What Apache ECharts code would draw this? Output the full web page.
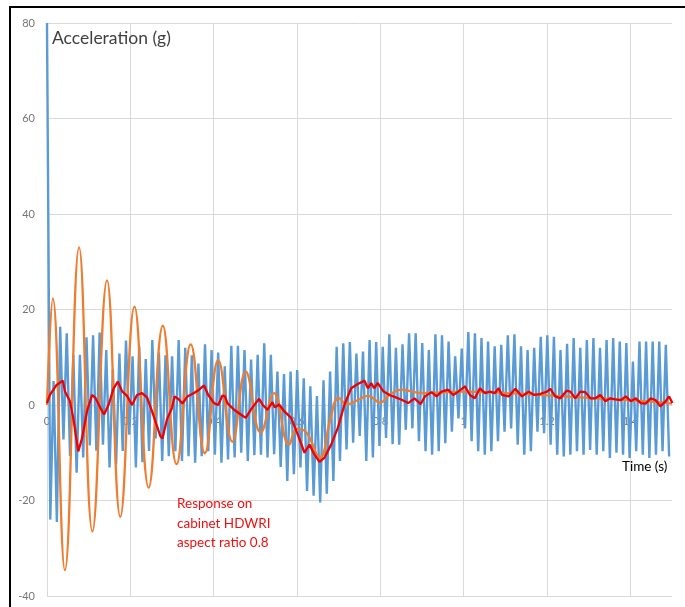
<!DOCTYPE html>
<html><head><meta charset="utf-8">
<script src="https://cdn.jsdelivr.net/npm/echarts@6/dist/echarts.min.js"></script>
<style>html,body{margin:0;padding:0;background:#fff}#c{width:685px;height:607px}</style>
</head><body><div id="c"></div>
<script>
// Axis settings
const xTickLabels = ['0', '0.2', '0.4', '0.6', '0.8', '1', '1.2', '1.4'];
const yTickLabels = ['-40', '-20', '0', '20', '40', '60', '80'];

// Blue series: sampled oscillation, peaks and troughs read per cycle (period ~0.0158 s)
const bluePeriod = 0.0158;
const bluePeaks = [80, 5, 16.4, 15, 10.5, 10.5, 14.2, 14.6, 15.2, 11.5,
  7.4, 10.8, 13.5, 10.2, 12.3, 9.6, 13.6, 11, 10.4, 10.2,
  13.6, 12, 10.4, 8.7, 12.7, 11.5, 11, 8.1, 12.4, 12.4,
  11.5, 9.5, 10.5, 12.9, 10.5, 7, 6.5, 7, 7.3, 5.6,
  3.9, 1.9, 5.2, 7, 12.2, 12.9, 13.2, 10.8, 11.2, 13.6,
  13.2, 12.2, 14.8, 12, 12.7, 15, 15, 13, 11.5, 14.8,
  14.6, 13.3, 10.2, 11.8, 15.3, 15, 14, 13.3, 12.3, 12.6,
  14.6, 14.8, 12.3, 11.5, 12, 14.3, 14.6, 14.3, 11.5, 12.8,
  14, 12, 13.6, 14, 12, 13.6, 14, 13.3, 13, 9.1,
  13.3, 13.3, 13.3, 13.3, 12.6];
const blueTroughs = [-24, -24.5, -7.2, -10.7, -14.2, -11, -8.5, -9.6, -8.3, -13.1,
  -12.4, -9.6, -6.2, -13.1, -12, -9.6, -7, -11.7, -10.7, -9.7,
  -11.7, -10.7, -12.1, -10.7, -9.7, -10.4, -12.1, -11.4, -11, -10,
  -11.7, -10.5, -10.4, -11, -10.3, -13, -15.9, -14.5, -13.1, -18,
  -19, -20.4, -18.6, -15.9, -11.7, -9.3, -7.9, -6.5, -11.7, -11,
  -8.6, -6.9, -8.2, -8.3, -5.2, -4.9, -7.6, -9.7, -10.4, -9.7,
  -8, -5.6, -2.8, -4.9, -7.6, -9.7, -10.4, -9.7, -7.6, -5.6,
  -4.9, -8.3, -10.4, -9.7, -5.6, -5.9, -8.3, -10.4, -10.8, -10.4,
  -9.7, -10.4, -9.4, -10.4, -9.7, -11.1, -10, -10.4, -11.1, -9.7,
  -10.4, -11.1, -10.4, -9.7, -10.8];

// Orange series
const orangeTime = [0, 0.014, 0.043, 0.077, 0.109, 0.144, 0.176, 0.21, 0.244, 0.278,
  0.311, 0.345, 0.379, 0.411, 0.445, 0.477, 0.513, 0.545, 0.581, 0.6,
  0.62, 0.655, 0.68, 0.70, 0.72, 0.75, 0.77, 0.80, 0.82, 0.85,
  0.9, 1.0, 1.1, 1.2, 1.3, 1.4, 1.5];
const orangeValue = [0, 22.3, -34.6, 33, -26.5, 26.1, -23.4, 20.6, -17.3, 16.6,
  -12.4, 12.7, -10.1, 9.4, -7.7, 7, -5.8, 2.5, -8.3, -5,
  -5.5, -11, -3, 1.5, 0.2, 1.2, 1.9, 0.5, 2, 3.2,
  2.5, 2.8, 2.5, 2, 1.5, 1, 0.3];

// Red series (response on cabinet HDWRI)
const redTime = [0, 0.007, 0.023, 0.038, 0.043, 0.055, 0.063, 0.075, 0.084, 0.096,
  0.108, 0.116, 0.128, 0.137, 0.148, 0.160, 0.170, 0.180, 0.192, 0.204,
  0.216, 0.228, 0.240, 0.252, 0.260, 0.272, 0.277, 0.288, 0.300, 0.306,
  0.316, 0.325, 0.337, 0.353, 0.365, 0.377, 0.387, 0.401, 0.411, 0.421,
  0.427, 0.433, 0.449, 0.465, 0.477, 0.489, 0.501, 0.509, 0.518, 0.529,
  0.541, 0.547, 0.557, 0.569, 0.586, 0.602, 0.618, 0.630, 0.642, 0.654,
  0.666, 0.682, 0.698, 0.714, 0.730, 0.746, 0.762, 0.770, 0.778, 0.785,
  0.794, 0.807, 0.822, 0.834, 0.851, 0.867, 0.882, 0.897, 0.907, 0.923,
  0.935, 0.947, 0.963, 0.975, 0.987, 1.003, 1.015, 1.027, 1.039, 1.051,
  1.063, 1.075, 1.084, 1.092, 1.108, 1.124, 1.140, 1.156, 1.169, 1.183,
  1.200, 1.208, 1.220, 1.232, 1.247, 1.256, 1.268, 1.280, 1.292, 1.304,
  1.316, 1.328, 1.340, 1.352, 1.364, 1.377, 1.389, 1.401, 1.413, 1.425,
  1.437, 1.449, 1.461, 1.472, 1.485, 1.493, 1.501];
const redValue = [0.4, 2.1, 4.2, 5.1, 2.9, 0.8, -2.7, -9.7, -7, -1.3,
  2.1, 1.5, -0.6, -2, 0.1, 3.5, 4.9, 2.9, 1.9, 0,
  2.1, 2.5, 1.6, -1.3, -3.4, -6.5, -7, -3, -0.6, 1.8,
  1.2, 0.3, 1.8, 2.5, 3.2, 4.1, 2.1, 0.4, 0, 2,
  1.8, 0.4, -1, -2, -2.7, -1, 0.4, 1.3, 0, -1,
  0.6, -0.5, 0.1, -1.3, -2.7, -6.2, -10, -8.3, -10.4, -11.9,
  -11, -8.3, -4.8, 0.1, 3.5, 4.4, 5.1, 3.5, 4.6, 3.5,
  4.6, 2.9, 2.1, 1.7, 1.1, 0.4, 1.4, 0.2, 1.8, 2.7,
  1.8, 2.8, 3.2, 2.1, 2.8, 3.9, 2.1, 1.4, 3.5, 2.5,
  2.8, 2.5, 3.5, 2.1, 1.8, 3.4, 1.8, 2.8, 2.1, 2.3,
  2.8, 3.4, 1.8, 1.4, 3, 2.8, 1.4, 2.8, 2.7, 1.4,
  1.4, 2.1, 0.8, 1.4, 1.2, 1, 1.8, 0.8, 1.4, 0.4,
  0.3, 1.4, 1, -0.3, 0.8, 1.8, 0.4];

const blueData = [];
for (let i = 0; i < bluePeaks.length; i++) {
  blueData.push([i * bluePeriod, bluePeaks[i]]);
  if (i < blueTroughs.length) blueData.push([(i + 0.5) * bluePeriod, blueTroughs[i]]);
}
const orangeData = orangeTime.map((t, i) => [t, orangeValue[i]]);
const redData = redTime.map((t, i) => [t, redValue[i]]);

const FONT = 'Lato, "Liberation Sans", sans-serif';
const xSplitColors = xTickLabels.map(() => '#d9d9d9').concat(['rgba(0,0,0,0)']);

const GRID = {left: 47, right: 13, top: 23, bottom: 11};
const Y_MIN = -40, Y_MAX = 80;
const gridH = 607 - GRID.top - GRID.bottom;
// x axis (labels) sits on the zero line of the y axis
const xAxisOffset = -gridH * (0 - Y_MIN) / (Y_MAX - Y_MIN);

const chart = echarts.init(document.getElementById('c'), null, {renderer: 'canvas'});
chart.setOption({
  animation: false,
  backgroundColor: '#fff',
  grid: Object.assign({containLabel: false}, GRID),
  xAxis: {
    type: 'value', min: 0, max: 1.5, interval: 0.2,
    position: 'bottom', offset: xAxisOffset,
    axisLine: {show: true, onZero: false, lineStyle: {color: '#d9d9d9', width: 1}},
    axisTick: {show: false},
    axisLabel: {
      color: '#767676', fontSize: 11, fontFamily: FONT, margin: 11,
      showMaxLabel: false,
      formatter: function (v) {
        const idx = Math.round(v / 0.2);
        return (Math.abs(v - idx * 0.2) < 1e-6 && idx < xTickLabels.length) ? xTickLabels[idx] : '';
      }
    },
    splitLine: {show: true, lineStyle: {color: xSplitColors, width: 1}}
  },
  yAxis: {
    type: 'value', min: Y_MIN, max: Y_MAX, interval: 20,
    axisLine: {show: false},
    axisTick: {show: false},
    axisLabel: {
      color: '#767676', fontSize: 11, fontFamily: FONT, margin: 12,
      formatter: function (v) {
        const idx = Math.round((v - Y_MIN) / 20);
        return yTickLabels[idx] !== undefined ? yTickLabels[idx] : '';
      }
    },
    splitLine: {show: true, lineStyle: {color: '#d9d9d9', width: 1}}
  },
  series: [
    {type: 'line', data: blueData, showSymbol: false, symbol: 'none',
     lineStyle: {color: '#5B9BD5', width: 2.4}, itemStyle: {color: '#5B9BD5'}, z: 2},
    {type: 'line', data: orangeData, showSymbol: false, symbol: 'none', smooth: 0.45,
     lineStyle: {color: '#ED7D31', width: 2.3}, itemStyle: {color: '#ED7D31'}, z: 3},
    {type: 'line', data: redData, showSymbol: false, symbol: 'none',
     lineStyle: {color: '#F00000', width: 2.3}, itemStyle: {color: '#F00000'}, z: 4}
  ],
  graphic: [
    {type: 'line', shape: {x1: 9, y1: 7, x2: 685, y2: 7}, style: {stroke: '#000', lineWidth: 2}, silent: true},
    {type: 'line', shape: {x1: 10, y1: 6, x2: 10, y2: 607}, style: {stroke: '#000', lineWidth: 2}, silent: true},
    {type: 'text', left: 52, top: 29, z: 10,
     style: {text: 'Acceleration (g)', fontSize: 17.5, fontFamily: FONT, fill: '#404040'}},
    {type: 'text', left: 622, top: 460, z: 10,
     style: {text: 'Time (s)', fontSize: 13.5, fontFamily: FONT, fill: '#000'}},
    {type: 'text', left: 177, top: 494, z: 10,
     style: {text: 'Response on\ncabinet HDWRI\naspect ratio 0.8', fontSize: 13.5, lineHeight: 19.5,
             fontFamily: FONT, fill: '#EE1111'}}
  ]
});
</script>
</body></html>
